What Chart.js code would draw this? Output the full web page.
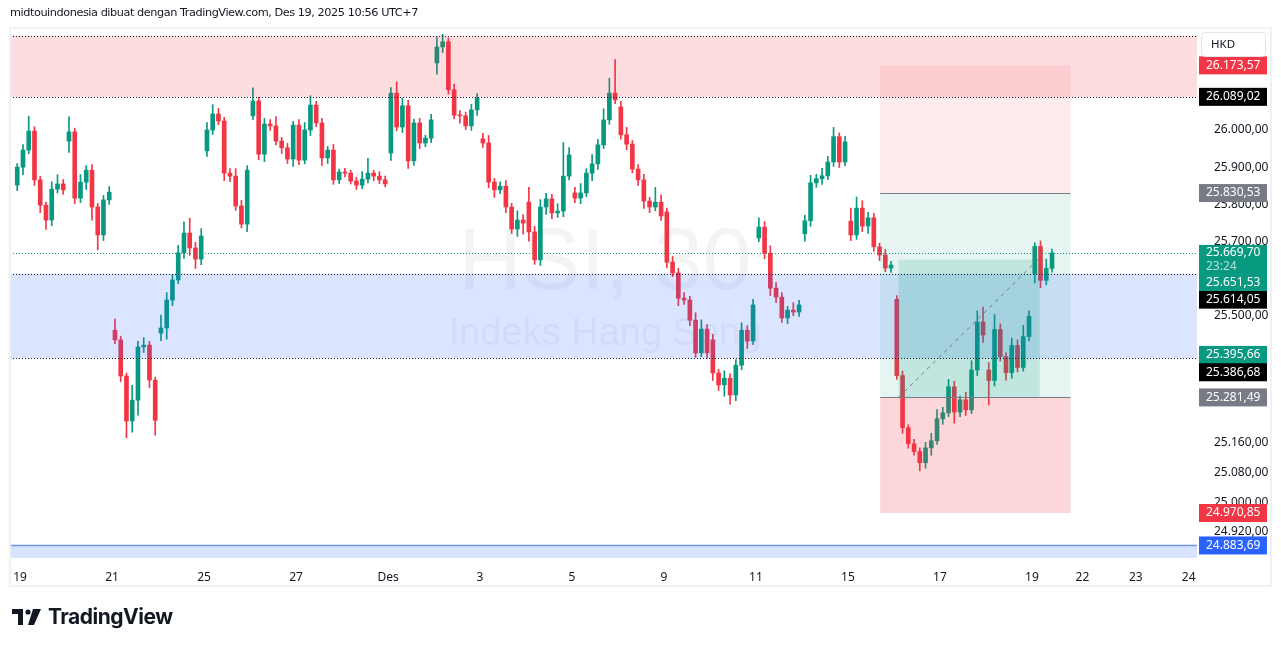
<!DOCTYPE html>
<html>
<head>
<meta charset="utf-8">
<script src="https://cdn.jsdelivr.net/npm/chart.js@4.4.1/dist/chart.umd.min.js"></script>
<style>
    body { margin: 0; background: #fff; }
    #wrap { position: relative; width: 1281px; height: 646px; }
    #header { position: absolute; left: 10px; top: 6px; font: 11.3px "DejaVu Sans", sans-serif; color: #131722; letter-spacing: -0.45px; }
    #logo { position: absolute; left: 12px; top: 604px; display: flex; align-items: center; gap: 6px; font: bold 21px "Inter", "Liberation Sans", sans-serif; color: #131722; letter-spacing: -0.5px; }
</style>
</head>
<body>
<div id="wrap">
    <canvas id="priceChart" width="1281" height="646"></canvas>
    <div id="header">midtouindonesia dibuat dengan TradingView.com, Des 19, 2025 10:56 UTC+7</div>
    <div id="logo">
        <svg width="30" height="16" viewBox="0 0 30 16">
            <path d="M0 0h11v16h-5v-11h-6z" fill="#131722"/>
            <circle cx="16" cy="3" r="2.6" fill="#131722"/>
            <path d="M21 0h8l-7 16h-6z" fill="#131722"/>
        </svg>
        <span>TradingView</span>
    </div>
</div>
<script>
// Sessions (day index 0 = 19 Nov), open of the first bar of each session
const dayIndex = [-1, 0, 1, 2, 3, 4, 5, 6, 7, 8, 9, 10, 11, 12, 13, 14, 15, 16, 17, 18, 19, 20, 21, 22];
const dayFirstSlot = [7, 0, 0, 0, 0, 0, 0, 0, 0, 0, 0, 0, 0, 0, 0, 0, 0, 0, 0, 0, 0, 0, 0, 0];
const dayOpens = [25852, 25900, 25970, 25462, 25454, 25944, 26038, 26013, 25887, 25938, 26180, 25976,
    25806, 25831, 26062, 25780, 25436, 25710, 25721, 25755, 25545, 25224, 25355, 25614];
const barsPerDay = [1, 8, 8, 8, 8, 8, 8, 8, 8, 8, 8, 8, 8, 8, 8, 8, 8, 8, 8, 8, 8, 8, 8, 4];
const SLOTS = 8;

const closes = [
    25900,
    25946, 25997, 25866, 25798, 25758, 25841, 25855, 25839,
    25995, 25817, 25860, 25892, 25793, 25718, 25812, 25833,
    25436, 25339, 25218, 25274, 25417, 25422, 25328, 25220,
    25468, 25543, 25597, 25670, 25723, 25683, 25653, 25715,
    26000, 26043, 26024, 25884, 25876, 25796, 25747, 25892,
    26078, 25935, 26016, 26011, 25970, 25952, 25922, 26013,
    25919, 26000, 26067, 26019, 25925, 25946, 25866, 25887,
    25884, 25863, 25852, 25868, 25884, 25876, 25866, 25855,
    26099, 26008, 26065, 25917, 26019, 25965, 25978, 26027,
    26223, 26237, 26108, 26040, 26038, 26011, 26054, 26086,
    25965, 25860, 25839, 25849, 25793, 25734, 25758, 25750,
    25726, 25651, 25793, 25815, 25777, 25782, 25876, 25933,
    25817, 25831, 25884, 25909, 25960, 26027, 26099, 26081,
    25987, 25962, 25895, 25866, 25809, 25793, 25806, 25769,
    25645, 25616, 25548, 25543, 25489, 25401, 25465, 25401,
    25347, 25315, 25333, 25288, 25368, 25462, 25433, 25530,
    25739, 25669, 25575, 25551, 25495, 25516, 25511, 25530,
    25756, 25858, 25869, 25877, 25914, 25982, 25914, 25968,
    25718, 25790, 25742, 25764, 25686, 25664, 25629, 25637,
    25340, 25200, 25157, 25136, 25106, 25146, 25165, 25224,
    25240, 25310, 25242, 25275, 25248, 25355, 25484, 25449,
    25327, 25464, 25391, 25348, 25421, 25362, 25445, 25499,
    25687, 25596, 25628, 25669.7
];
const upperWick = [
    10,
    15, 40, 12, 10, 8, 20, 25, 12,
    40, 10, 20, 12, 15, 10, 12, 15,
    30, 10, 8, 40, 15, 20, 10, 8,
    35, 20, 15, 20, 30, 40, 15, 20,
    20, 25, 15, 10, 12, 20, 15, 12,
    35, 10, 15, 12, 25, 10, 12, 10,
    15, 20, 25, 10, 12, 10, 15, 8,
    10, 8, 10, 20, 40, 8, 12, 10,
    15, 30, 20, 15, 10, 12, 8, 15,
    25, 20, 10, 15, 12, 10, 15, 12,
    15, 20, 10, 12, 15, 10, 25, 15,
    40, 15, 20, 15, 12, 20, 90, 20,
    15, 25, 12, 25, 15, 30, 40, 90,
    15, 20, 10, 12, 15, 10, 40, 20,
    10, 15, 12, 15, 10, 20, 25, 12,
    15, 10, 20, 12, 15, 20, 12, 15,
    25, 15, 20, 15, 12, 10, 20, 12,
    15, 20, 12, 20, 15, 25, 10, 15,
    35, 30, 20, 15, 12, 10, 15, 10,
    10, 12, 8, 12, 10, 15, 20, 25,
    15, 20, 15, 10, 20, 25, 30, 40,
    20, 40, 15, 10, 20, 15, 30, 15,
    10, 15, 25, 10
];
const lowerWick = [
    15,
    20, 10, 15, 20, 25, 15, 10, 12,
    30, 15, 12, 20, 35, 40, 15, 12,
    10, 15, 45, 30, 40, 15, 20, 40,
    20, 30, 15, 10, 15, 20, 25, 15,
    15, 12, 10, 20, 15, 12, 10, 20,
    10, 15, 20, 12, 10, 15, 12, 20,
    12, 10, 15, 10, 20, 15, 12, 10,
    10, 8, 12, 10, 10, 12, 10, 8,
    20, 10, 15, 20, 12, 15, 10, 12,
    30, 15, 12, 10, 20, 10, 12, 15,
    12, 15, 20, 10, 15, 12, 20, 30,
    25, 12, 15, 20, 15, 12, 15, 10,
    12, 15, 10, 20, 15, 10, 12, 10,
    12, 15, 10, 15, 20, 15, 10, 12,
    15, 10, 20, 12, 15, 12, 10, 15,
    20, 15, 30, 25, 15, 12, 20, 10,
    10, 15, 20, 15, 12, 15, 10, 12,
    20, 15, 12, 15, 10, 12, 15, 10,
    15, 12, 15, 20, 12, 15, 10, 12,
    10, 15, 12, 10, 22, 15, 20, 10,
    15, 10, 30, 12, 15, 10, 15, 20,
    66, 15, 12, 20, 15, 12, 10, 12,
    25, 20, 12, 10
];

// Axes
const xTickPos = [0, 2, 4, 6, 8, 10, 12, 14, 16, 18, 20, 22, 23.1, 24.26, 25.41];
const xTickLabels = ['19', '21', '25', '27', 'Des', '3', '5', '9', '11', '15', '17', '19', '22', '23', '24'];
const yTicks = [26000, 25900, 25800, 25700, 25500, 25160, 25080, 25000, 24920];

// Drawn levels
const resistanceZone = [26253, 26089.02];
const supportZone = [25614.05, 25386.68];
const lowLine = 24883.69;
const lastPrice = 25669.7;
const shortStop = 26173.57, shortEntry = 25830.53;
const longEntry = 25281.49, longStop = 24970.85, fillTop = 25651.53;
const boxX = [18.7, 22.84];
const fillX = [19.1, 22.17];
const trendLine = [[19.1, 25281.49], [22.13, 25651.53]];

const priceLabels = [
    { v: 26173.57, bg: '#f23645', dy: 0 },
    { v: 26089.02, bg: '#000000', dy: 0 },
    { v: 25830.53, bg: '#787b86', dy: 0 },
    { v: 25614.05, bg: '#000000', dy: 26 },
    { v: 25395.66, bg: '#089981', dy: 0 },
    { v: 25386.68, bg: '#000000', dy: 14 },
    { v: 25281.49, bg: '#787b86', dy: 0 },
    { v: 24970.85, bg: '#f23645', dy: 0 },
    { v: 24883.69, bg: '#2962ff', dy: 0 }
];

const UP = '#089981', DOWN = '#f23645';
const LABEL_FONT = '12px "Noto Sans", sans-serif';

function fmt(v) {
    const [i, d] = v.toFixed(2).split('.');
    return i.replace(/\B(?=(\d{3})+(?!\d))/g, '.') + ',' + d;
}

// Build candles
const candles = [];
let n = 0;
dayIndex.forEach((d, di) => {
    for (let k = 0; k < barsPerDay[di]; k++) {
        const o = k === 0 ? dayOpens[di] : closes[n - 1];
        const c = closes[n];
        candles.push({
            x: d + (dayFirstSlot[di] + k + 0.5) / SLOTS,
            o: o, c: c,
            h: Math.max(o, c) + upperWick[n],
            l: Math.min(o, c) - lowerWick[n]
        });
        n++;
    }
});
const colorOf = ctx => {
    const b = candles[ctx.dataIndex];
    return b && b.c >= b.o ? UP : DOWN;
};

const overlay = {
    id: 'overlay',
    beforeDatasetsDraw(chart) {
        const { ctx } = chart;
        ctx.save();
        ctx.fillStyle = 'rgba(42,46,57,0.05)';
        ctx.textAlign = 'center';
        ctx.textBaseline = 'middle';
        ctx.font = '88px "Liberation Sans", sans-serif';
        ctx.fillText('HSI, 30', 605, 265);
        ctx.font = '38px "Liberation Sans", sans-serif';
        ctx.fillText('Indeks Hang Seng', 605, 335);
        ctx.restore();
    },
    afterDatasetsDraw(chart) {
        const { ctx, chartArea: a, scales: { x, y } } = chart;
        const py = v => y.getPixelForValue(v);
        const px = v => x.getPixelForValue(v);
        ctx.save();
        ctx.beginPath();
        ctx.rect(a.left, a.top, a.right - a.left, a.bottom - a.top);
        ctx.clip();

        // zones
        ctx.fillStyle = 'rgba(242,54,69,0.17)';
        ctx.fillRect(a.left, py(resistanceZone[0]), a.right - a.left, py(resistanceZone[1]) - py(resistanceZone[0]));
        ctx.fillStyle = 'rgba(41,98,255,0.17)';
        ctx.fillRect(a.left, py(supportZone[0]), a.right - a.left, py(supportZone[1]) - py(supportZone[0]));
        ctx.fillStyle = 'rgba(41,98,255,0.18)';
        ctx.fillRect(a.left, py(lowLine), a.right - a.left, a.bottom - py(lowLine));
        ctx.strokeStyle = '#6d96ee';
        ctx.lineWidth = 1.5;
        ctx.beginPath(); ctx.moveTo(a.left, py(lowLine)); ctx.lineTo(a.right, py(lowLine)); ctx.stroke();

        // position box
        const bl = px(boxX[0]), bw = px(boxX[1]) - bl;
        ctx.fillStyle = 'rgba(242,54,69,0.1)';
        ctx.fillRect(bl, py(shortStop), bw, py(shortEntry) - py(shortStop));
        ctx.fillStyle = 'rgba(8,153,129,0.1)';
        ctx.fillRect(bl, py(shortEntry), bw, py(longEntry) - py(shortEntry));
        ctx.fillStyle = 'rgba(242,54,69,0.2)';
        ctx.fillRect(bl, py(longEntry), bw, py(longStop) - py(longEntry));
        ctx.fillStyle = 'rgba(8,153,129,0.17)';
        ctx.fillRect(px(fillX[0]), py(fillTop), px(fillX[1]) - px(fillX[0]), py(longEntry) - py(fillTop));
        ctx.strokeStyle = '#787b86';
        ctx.lineWidth = 1;
        [shortEntry, longEntry].forEach(v => {
            ctx.beginPath(); ctx.moveTo(bl, Math.round(py(v)) + 0.5); ctx.lineTo(bl + bw, Math.round(py(v)) + 0.5); ctx.stroke();
        });
        ctx.setLineDash([4, 4]);
        ctx.beginPath();
        ctx.moveTo(px(trendLine[0][0]), py(trendLine[0][1]));
        ctx.lineTo(px(trendLine[1][0]), py(trendLine[1][1]));
        ctx.stroke();

        // dotted levels
        ctx.setLineDash([1, 2]);
        ctx.strokeStyle = '#131722';
        [resistanceZone[0], resistanceZone[1], supportZone[0], supportZone[1]].forEach(v => {
            const yy = Math.round(py(v)) + 0.5;
            ctx.beginPath(); ctx.moveTo(a.left, yy); ctx.lineTo(a.right, yy); ctx.stroke();
        });
        ctx.strokeStyle = UP;
        const ly = Math.round(py(lastPrice)) + 0.5;
        ctx.beginPath(); ctx.moveTo(a.left, ly); ctx.lineTo(a.right, ly); ctx.stroke();
        ctx.restore();
    },
    afterDraw(chart) {
        const { ctx, chartArea: a, scales: { y } } = chart;
        const lx = a.right + 2, lw = 68;
        ctx.save();
        ctx.font = LABEL_FONT;
        ctx.textBaseline = 'middle';
        ctx.textAlign = 'left';
        priceLabels.forEach(p => {
            const yy = y.getPixelForValue(p.v) + p.dy;
            ctx.fillStyle = p.bg;
            ctx.fillRect(lx, yy - 9, lw, 18);
            ctx.fillStyle = '#ffffff';
            ctx.fillText(fmt(p.v), lx + 7, yy);
        });
        // last price block
        const ly = y.getPixelForValue(lastPrice);
        ctx.fillStyle = UP;
        ctx.fillRect(lx, ly - 8, lw, 46);
        ctx.fillStyle = '#ffffff';
        ctx.fillText(fmt(lastPrice), lx + 7, ly);
        ctx.fillStyle = 'rgba(255,255,255,0.7)';
        ctx.fillText('23:24', lx + 7, ly + 14);
        ctx.fillStyle = '#ffffff';
        ctx.fillText(fmt(fillTop), lx + 7, ly + 30);

        // currency box
        ctx.strokeStyle = '#e0e3eb';
        ctx.lineWidth = 1;
        ctx.beginPath();
        ctx.roundRect(1201.5, 32.5, 64, 24, 4);
        ctx.fillStyle = '#fff';
        ctx.fill();
        ctx.stroke();
        ctx.fillStyle = '#131722';
        ctx.font = '11.5px "Noto Sans", sans-serif';
        ctx.fillText('HKD', 1211, 45);

        // pane frame
        ctx.strokeStyle = '#eff1f4';
        ctx.lineWidth = 2;
        ctx.strokeRect(10, 28, 1261, 558);
        ctx.restore();
    }
};

const ctx = document.getElementById('priceChart').getContext('2d');
new Chart(ctx, {
    type: 'bar',
    data: {
        datasets: [
            {
                label: 'wick',
                data: candles.map(b => ({ x: b.x, y: [b.l, b.h] })),
                backgroundColor: colorOf,
                barThickness: 1,
                grouped: false
            },
            {
                label: 'body',
                data: candles.map(b => ({ x: b.x, y: [b.o, b.c] })),
                backgroundColor: colorOf,
                barThickness: 4,
                minBarLength: 1,
                grouped: false
            }
        ]
    },
    options: {
        responsive: false,
        animation: false,
        layout: { padding: { left: 10, top: 28, right: 11, bottom: 61 } },
        plugins: { legend: { display: false }, tooltip: { enabled: false } },
        scales: {
            x: {
                type: 'linear',
                offset: false,
                min: -0.22,
                max: 25.59,
                grid: { display: false, offset: false },
                border: { display: false },
                afterFit: s => { s.height = 27; },
                afterBuildTicks: s => { s.ticks = xTickPos.map(v => ({ value: v })); },
                ticks: {
                    autoSkip: false,
                    maxRotation: 0,
                    padding: 4,
                    color: '#131722',
                    font: { family: 'Noto Sans', size: 12 },
                    callback: (v, i) => xTickLabels[i]
                }
            },
            y: {
                position: 'right',
                min: 24850,
                max: 26274,
                grid: { display: false },
                border: { display: false },
                afterFit: s => { s.width = 73; },
                afterBuildTicks: s => { s.ticks = yTicks.map(v => ({ value: v })); },
                ticks: {
                    padding: 9,
                    color: '#131722',
                    font: { family: 'Noto Sans', size: 12 },
                    callback: v => fmt(v)
                }
            }
        }
    },
    plugins: [overlay]
});
</script>
</body>
</html>
